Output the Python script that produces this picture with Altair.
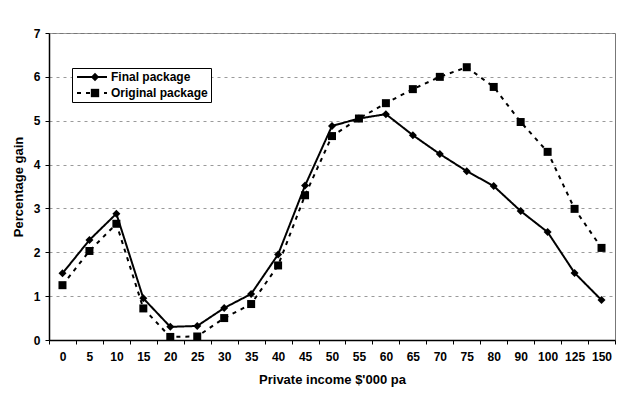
import altair as alt
import pandas as pd

income = ["0", "5", "10", "15", "20", "25", "30", "35", "40", "45", "50", "55",
          "60", "65", "70", "75", "80", "90", "100", "125", "150"]
final_pkg = [1.52, 2.28, 2.88, 0.95, 0.30, 0.32, 0.73, 1.05, 1.95, 3.52, 4.88,
             5.05, 5.15, 4.67, 4.24, 3.85, 3.51, 2.94, 2.46, 1.53, 0.91]
original_pkg = [1.25, 2.03, 2.65, 0.72, 0.07, 0.08, 0.50, 0.82, 1.70, 3.30, 4.65,
                5.05, 5.40, 5.72, 6.00, 6.22, 5.77, 4.97, 4.29, 2.99, 2.10]
series_names = ["Final package", "Original package"]
marker_keys = ["F", "O"]

rows = []
for i, x in enumerate(income):
    rows.append({"income": x, "gain": final_pkg[i], "series": series_names[0], "marker": marker_keys[0]})
    rows.append({"income": x, "gain": original_pkg[i], "series": series_names[1], "marker": marker_keys[1]})
df = pd.DataFrame(rows)

font = "Liberation Sans"

x_enc = alt.X("income:N", sort=income, title="Private income $'000 pa",
              scale=alt.Scale(paddingInner=0, paddingOuter=0.0),
              axis=alt.Axis(labelAngle=0, tickBand="extent", grid=False))
y_enc = alt.Y("gain:Q", title="Percentage gain",
              scale=alt.Scale(domain=[0, 7], nice=False),
              axis=alt.Axis(values=[0, 1, 2, 3, 4, 5, 6, 7], grid=True,
                            gridDash=[3, 4], gridColor="#9a9a9a"))

line_legend = alt.Legend(
    title=None, orient="none", legendX=23, legendY=35,
    strokeColor="black", fillColor="white", padding=3,
    labelFont=font, labelFontWeight="bold", labelFontSize=12,
    labelColor="black", symbolStrokeWidth=2, symbolStrokeColor="black",
    symbolType="M-3,0H3", symbolSize=100, symbolOffset=11, labelOffset=13,
    rowPadding=4, zindex=1,
)
point_legend = alt.Legend(
    title=None, orient="none", legendX=37, legendY=35, padding=3,
    labelFont=font, labelFontWeight="bold", labelFontSize=12,
    labelExpr="''", symbolFillColor="black", symbolStrokeColor="black",
    symbolStrokeWidth=0, symbolSize=70, symbolOpacity=1,
    rowPadding=4, zindex=2,
)

base = alt.Chart(df)
lines = base.mark_line(color="black", strokeWidth=2).encode(
    x=x_enc, y=y_enc,
    strokeDash=alt.StrokeDash("series:N", scale=alt.Scale(domain=series_names, range=[[1, 0], [4, 5]]), legend=line_legend),
)
points = base.mark_point(filled=True, color="black", opacity=1, size=64).encode(
    x=x_enc, y=y_enc,
    shape=alt.Shape("marker:N", scale=alt.Scale(domain=marker_keys, range=["diamond", "square"]), legend=point_legend),
)

chart = (lines + points).properties(
    width=566, height=307,
    autosize=alt.AutoSizeParams(type="none"),
    padding={"left": 41, "top": 25, "right": 5, "bottom": 52},
).configure_view(
    stroke="#777", strokeWidth=1
).configure_axis(
    labelFont=font, labelFontWeight="bold", labelFontSize=12, labelColor="black",
    titleFont=font, titleFontWeight="bold", titleFontSize=13, titleColor="black",
    domainColor="black", domainWidth=1.5, tickColor="black", tickSize=4,
).configure_axisX(labelPadding=7, titlePadding=11).configure_axisY(labelPadding=5, titlePadding=8)

chart.save("out.html", embed_options={"renderer": "svg", "actions": False})
